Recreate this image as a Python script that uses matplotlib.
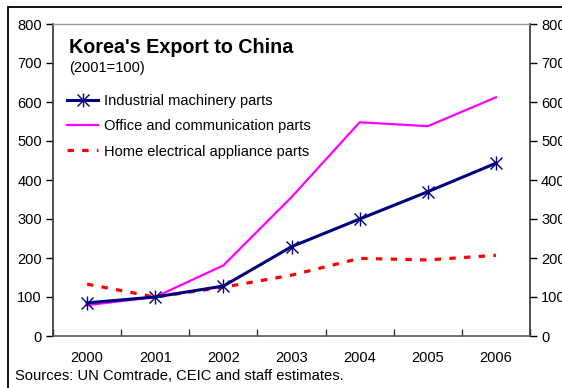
import matplotlib.pyplot as plt
from matplotlib.patches import Rectangle
from matplotlib.legend_handler import HandlerTuple
from matplotlib.lines import Line2D

plt.rcParams['font.family'] = ['Liberation Sans', 'DejaVu Sans']

years = ['2000', '2001', '2002', '2003', '2004', '2005', '2006']
machinery = [85, 100, 128, 229, 300, 370, 443]
office = [79, 100, 181, 356, 548, 538, 612]
home = [133, 100, 125, 156, 199, 195, 207]
yticks = [0, 100, 200, 300, 400, 500, 600, 700, 800]

fig = plt.figure(figsize=(5.62, 3.88), dpi=100)
ax = fig.add_axes([53 / 562, 1 - 336 / 388, 477 / 562, 312 / 388])

x = list(range(len(years)))
ax.plot(x, office, color='#FF00FF', lw=1.6, zorder=2)
ax.plot(x, home, color='#FF0000', lw=2.3, ls=(0, (2, 2.6)), dash_capstyle='butt', zorder=3)
ax.plot(x, machinery, color='#000080', lw=2.2, zorder=4)
ax.plot(x, machinery, ls='none', marker='x', ms=8, mew=1, color='#000080', zorder=5)
ax.plot(x, machinery, ls='none', marker='|', ms=10, mew=1, color='#000080', zorder=5)

ax.set_xlim(-0.5, 6.5)
ax.set_ylim(0, 800)
ax.set_yticks(yticks)
ax.set_xticks(x)
ax.set_xticklabels(years)
ax.set_xticks([i + 0.5 for i in range(-1, 7)], minor=True)
ax.tick_params(axis='x', which='major', length=0, pad=11, labelsize=10.5)
ax.tick_params(axis='x', which='minor', length=5, direction='in', width=1, color='#333333')
ax.tick_params(axis='y', length=5, direction='out', width=1, labelsize=10.5, pad=3)
for s in ['bottom', 'left', 'right']:
    ax.spines[s].set_color('#333333')
    ax.spines[s].set_linewidth(1.2)
ax.spines['top'].set_color('#999999')
ax.spines['top'].set_linewidth(1)
ax.spines['bottom'].set_color('#555555')

ax2 = ax.twinx()
ax2.set_ylim(0, 800)
ax2.set_yticks(yticks)
ax2.tick_params(axis='y', length=5, direction='out', width=1, labelsize=10.5, pad=3)
for s in ax2.spines.values():
    s.set_visible(False)

ax.text(0.033, 0.926, "Korea's Export to China", transform=ax.transAxes,
        fontsize=14.2, fontweight='bold', va='center')
ax.text(0.033, 0.859, "(2001=100)", transform=ax.transAxes, fontsize=10.5, va='center')

h_mach = (Line2D([], [], color='#000080', lw=2.2),
          Line2D([], [], ls='none', marker='x', ms=8, mew=1, color='#000080'),
          Line2D([], [], ls='none', marker='|', ms=10, mew=1, color='#000080'))
h_off = Line2D([], [], color='#FF00FF', lw=1.6)
h_home = Line2D([], [], color='#FF0000', lw=2.3, ls=(0, (2, 2.6)), dash_capstyle='butt')
ax.legend([h_mach, h_off, h_home],
          ['Industrial machinery parts', 'Office and communication parts',
           'Home electrical appliance parts'],
          handler_map={tuple: HandlerTuple(ndivide=1, pad=0)},
          loc='upper left', bbox_to_anchor=(0.018, 0.795), frameon=False,
          fontsize=10.5, handlelength=2.1, handletextpad=0.4, labelspacing=0.78,
          borderaxespad=0)

fig.text(15 / 562, 1 - 376 / 388, 'Sources: UN Comtrade, CEIC and staff estimates.',
         fontsize=10.6, va='center')

fig.patches.append(Rectangle((8 / 562, -0.1), 1.2, 1 - 7 / 388 + 0.1, transform=fig.transFigure,
                             fill=False, ec='black', lw=1.3))

fig.savefig('out.png', dpi=100)
